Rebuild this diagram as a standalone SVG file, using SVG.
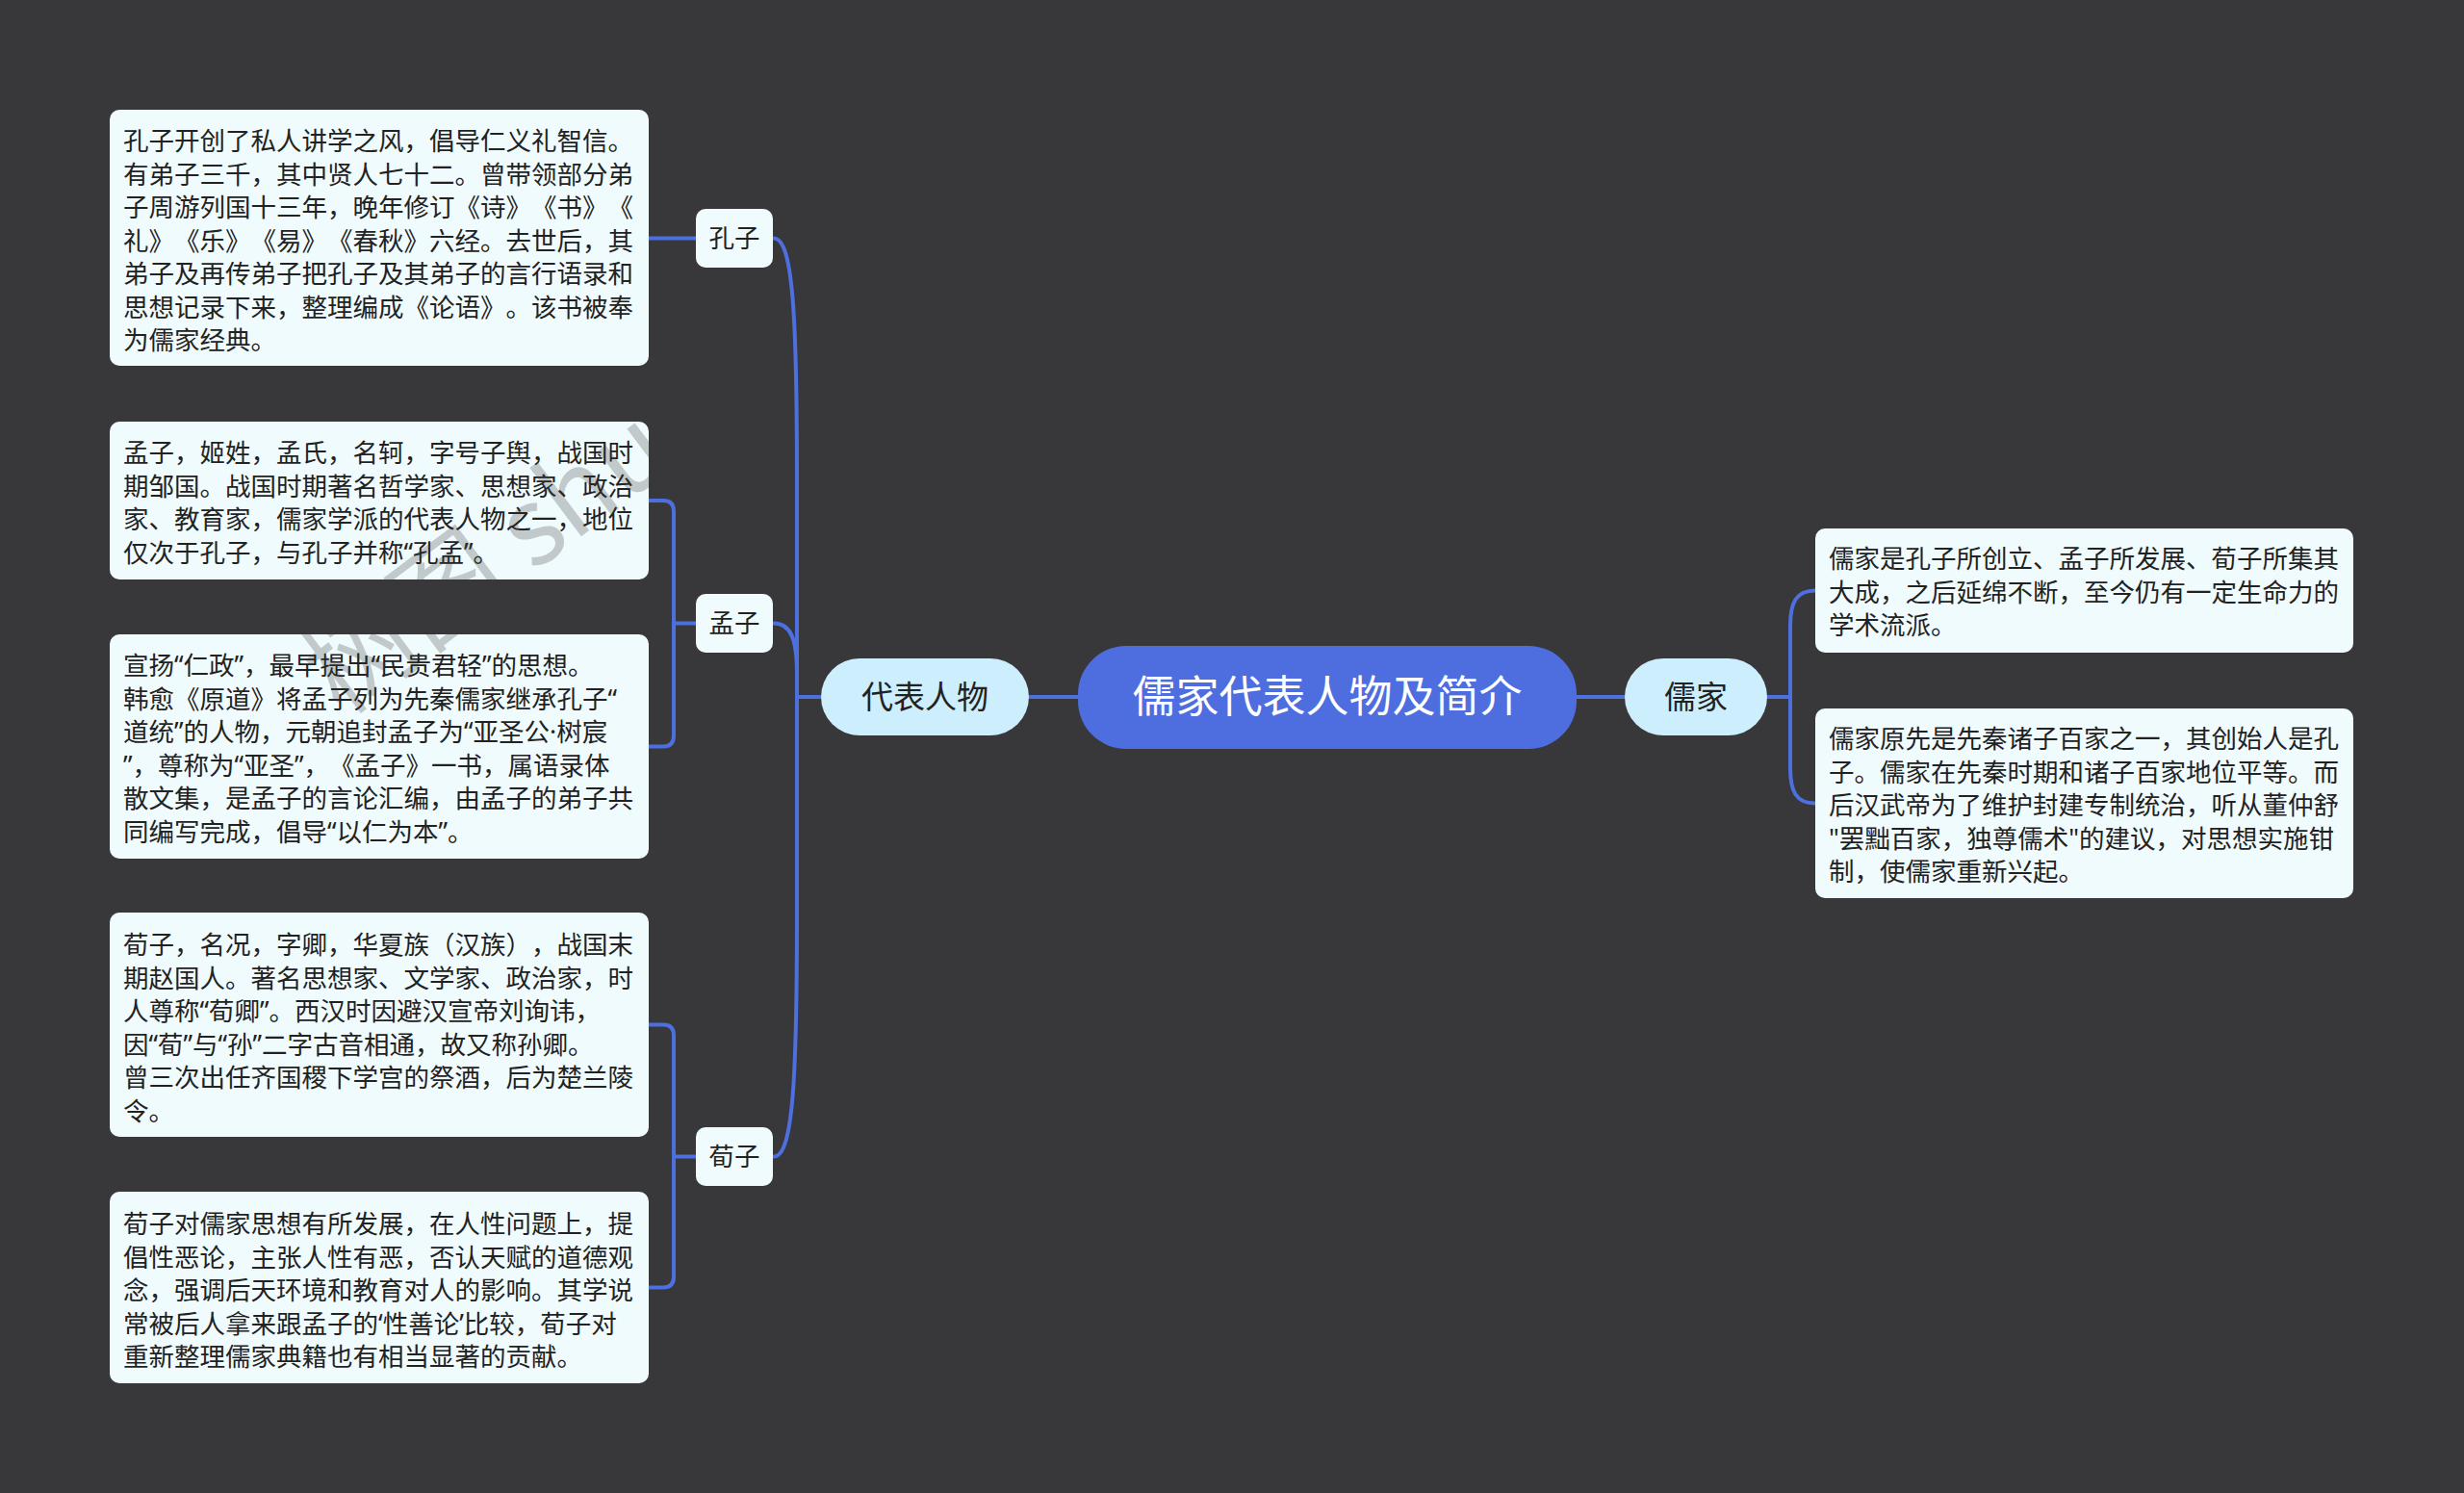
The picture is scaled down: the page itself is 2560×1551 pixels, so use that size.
<svg xmlns="http://www.w3.org/2000/svg" width="2560" height="1551" viewBox="0 0 2560 1551">
<style>
.bg{fill:#38373a}
.box{fill:#f0fbfd}
.lbl{fill:#f0fbfd}
.l1{fill:#cdeefc}
.root{fill:#4e6ee0}
text{text-spacing-trim:space-all}
.t{font-family:"Noto Sans","Noto Sans CJK SC",sans-serif;font-size:26.5px;fill:#222}
.tc{font-family:"Noto Sans CJK SC","Noto Sans",sans-serif;font-size:26.5px;fill:#222;text-anchor:middle}
.t1{font-family:"Noto Sans CJK SC","Noto Sans",sans-serif;font-size:33px;fill:#222;text-anchor:middle}
.tr{font-family:"Noto Sans CJK SC","Noto Sans",sans-serif;font-size:45px;fill:#ffffff;text-anchor:middle}
.ln{fill:none;stroke:#4e6fe0;stroke-width:4;stroke-linecap:round}
.wm{font-family:"Noto Sans CJK SC","Noto Sans",sans-serif;font-size:112px;fill:#38373a;opacity:0.25}
</style>
<rect class="bg" x="0" y="0" width="2560" height="1551"/>

<g id="connectors">
  <path class="ln" d="M1069,724 H1120"/>
  <path class="ln" d="M1638,724 H1688"/>
  <path class="ln" d="M853,724 H828"/>
  <path class="ln" d="M804,247.5 C824,247.5 828,330 828,500 V724"/>
  <path class="ln" d="M804,647.5 C822,647.5 828,665 828,700 V724"/>
  <path class="ln" d="M804,1201.5 C824,1201.5 828,1119 828,950 V724"/>
  <path class="ln" d="M674,247.5 H723"/>
  <path class="ln" d="M674,520 H689 Q700,520 700,531 V764.5 Q700,775.5 689,775.5 H674"/>
  <path class="ln" d="M723,647.5 H700"/>
  <path class="ln" d="M674,1064.5 H689 Q700,1064.5 700,1075.5 V1326.5 Q700,1337.5 689,1337.5 H674"/>
  <path class="ln" d="M723,1201.5 H700"/>
  <path class="ln" d="M1836,724 H1860"/>
  <path class="ln" d="M1886,613.5 C1866,613.5 1860,626 1860,650 V798 C1860,822 1866,834.5 1886,834.5"/>
</g>

<g id="root">
  <rect class="root" x="1120" y="671" width="518" height="107" rx="50" ry="50"/>
  <text class="tr" x="1379" y="740">儒家代表人物及简介</text>
</g>

<g id="n-daibiao">
  <rect class="l1" x="853" y="684" width="216" height="80" rx="40" ry="40"/>
  <text class="t1" x="961" y="736">代表人物</text>
</g>

<g id="n-rujia">
  <rect class="l1" x="1688" y="684" width="148" height="80" rx="40" ry="40"/>
  <text class="t1" x="1762" y="736">儒家</text>
</g>

<g id="n-kongzi">
  <rect class="lbl" x="723" y="217" width="80" height="61" rx="10" ry="10"/>
  <text class="tc" x="763" y="257">孔子</text>
</g>
<g id="n-mengzi">
  <rect class="lbl" x="723" y="617" width="80" height="61" rx="10" ry="10"/>
  <text class="tc" x="763" y="657">孟子</text>
</g>
<g id="n-xunzi">
  <rect class="lbl" x="723" y="1171" width="80" height="61" rx="10" ry="10"/>
  <text class="tc" x="763" y="1211">荀子</text>
</g>

<g id="d-kongzi">
  <rect class="box" x="114" y="114" width="560" height="266" rx="10" ry="10"/>
  <text class="t" x="128" y="156">
    <tspan x="128" y="156">孔子开创了私人讲学之风，倡导仁义礼智信。</tspan>
    <tspan x="128" y="190.5">有弟子三千，其中贤人七十二。曾带领部分弟</tspan>
    <tspan x="128" y="225">子周游列国十三年，晚年修订《诗》《书》《</tspan>
    <tspan x="128" y="259.5">礼》《乐》《易》《春秋》六经。去世后，其</tspan>
    <tspan x="128" y="294">弟子及再传弟子把孔子及其弟子的言行语录和</tspan>
    <tspan x="128" y="328.5">思想记录下来，整理编成《论语》。该书被奉</tspan>
    <tspan x="128" y="363">为儒家经典。</tspan>
  </text>
</g>

<g id="d-mengzi-1">
  <rect class="box" x="114" y="438" width="560" height="164" rx="10" ry="10"/>
  <text class="t" x="128" y="480">
    <tspan x="128" y="480">孟子，姬姓，孟氏，名轲，字号子舆，战国时</tspan>
    <tspan x="128" y="514.5">期邹国。战国时期著名哲学家、思想家、政治</tspan>
    <tspan x="128" y="549">家、教育家，儒家学派的代表人物之一，地位</tspan>
    <tspan x="128" y="583.5">仅次于孔子，与孔子并称“孔孟”。</tspan>
  </text>
</g>

<g id="d-mengzi-2">
  <rect class="box" x="114" y="659" width="560" height="233" rx="10" ry="10"/>
  <text class="t" x="128" y="701">
    <tspan x="128" y="701">宣扬“仁政”，最早提出“民贵君轻”的思想。</tspan>
    <tspan x="128" y="735.5">韩愈《原道》将孟子列为先秦儒家继承孔子“</tspan>
    <tspan x="128" y="770">道统”的人物，元朝追封孟子为“亚圣公·树宸</tspan>
    <tspan x="128" y="804.5">”，尊称为“亚圣”，《孟子》一书，属语录体</tspan>
    <tspan x="128" y="839">散文集，是孟子的言论汇编，由孟子的弟子共</tspan>
    <tspan x="128" y="873.5">同编写完成，倡导“以仁为本”。</tspan>
  </text>
</g>

<g id="d-xunzi-1">
  <rect class="box" x="114" y="948" width="560" height="233" rx="10" ry="10"/>
  <text class="t" x="128" y="991">
    <tspan x="128" y="991">荀子，名况，字卿，华夏族（汉族），战国末</tspan>
    <tspan x="128" y="1025.5">期赵国人。著名思想家、文学家、政治家，时</tspan>
    <tspan x="128" y="1060">人尊称“荀卿”。西汉时因避汉宣帝刘询讳，</tspan>
    <tspan x="128" y="1094.5">因“荀”与“孙”二字古音相通，故又称孙卿。</tspan>
    <tspan x="128" y="1129">曾三次出任齐国稷下学宫的祭酒，后为楚兰陵</tspan>
    <tspan x="128" y="1163.5">令。</tspan>
  </text>
</g>

<g id="d-xunzi-2">
  <rect class="box" x="114" y="1238" width="560" height="199" rx="10" ry="10"/>
  <text class="t" x="128" y="1281">
    <tspan x="128" y="1281">荀子对儒家思想有所发展，在人性问题上，提</tspan>
    <tspan x="128" y="1315.5">倡性恶论，主张人性有恶，否认天赋的道德观</tspan>
    <tspan x="128" y="1350">念，强调后天环境和教育对人的影响。其学说</tspan>
    <tspan x="128" y="1384.5">常被后人拿来跟孟子的‘性善论’比较，荀子对</tspan>
    <tspan x="128" y="1419">重新整理儒家典籍也有相当显著的贡献。</tspan>
  </text>
</g>

<g id="d-rujia-1">
  <rect class="box" x="1886" y="549" width="559" height="129" rx="10" ry="10"/>
  <text class="t" x="1900" y="590">
    <tspan x="1900" y="590">儒家是孔子所创立、孟子所发展、荀子所集其</tspan>
    <tspan x="1900" y="624.5">大成，之后延绵不断，至今仍有一定生命力的</tspan>
    <tspan x="1900" y="659">学术流派。</tspan>
  </text>
</g>

<g id="d-rujia-2">
  <rect class="box" x="1886" y="736" width="559" height="197" rx="10" ry="10"/>
  <text class="t" x="1900" y="777">
    <tspan x="1900" y="777">儒家原先是先秦诸子百家之一，其创始人是孔</tspan>
    <tspan x="1900" y="811.5">子。儒家在先秦时期和诸子百家地位平等。而</tspan>
    <tspan x="1900" y="846">后汉武帝为了维护封建专制统治，听从董仲舒</tspan>
    <tspan x="1900" y="880.5">"罢黜百家，独尊儒术"的建议，对思想实施钳</tspan>
    <tspan x="1900" y="915">制，使儒家重新兴起。</tspan>
  </text>
</g>

<text class="wm" x="355" y="745" transform="rotate(-37 355 745)">树图 shutu</text>
</svg>
